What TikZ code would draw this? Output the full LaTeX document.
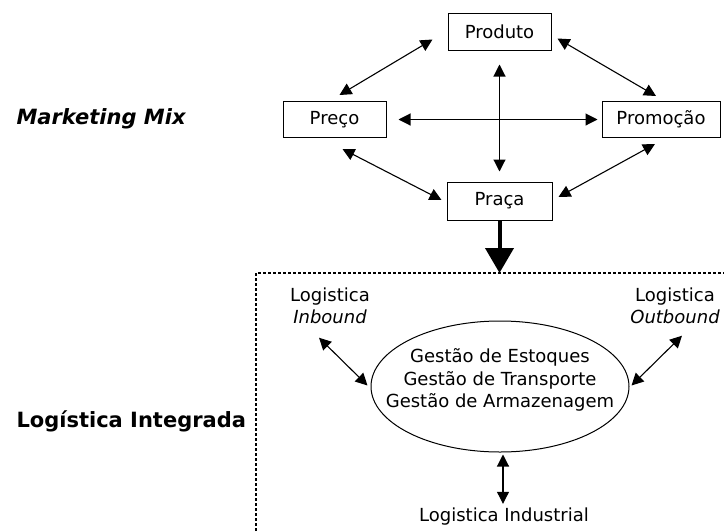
\documentclass[tikz,border=0pt]{standalone}
\usepackage{fontspec}
\setmainfont{DejaVu Sans}
\usetikzlibrary{arrows.meta,shapes.geometric,calc}
\begin{document}
\begin{tikzpicture}[x=1pt, y=-1pt, line width=1pt,
  mix node/.style={rectangle,draw,inner sep=0pt,minimum height=36,font=\fontsize{18}{22.5}\selectfont},
  side text/.style={font=\fontsize{18}{22.5}\selectfont,align=center,inner sep=2pt},
  title text/.style={font=\fontsize{21}{24}\selectfont\bfseries,anchor=west,inner sep=0pt},
  link/.style={{Triangle[length=12pt,width=12pt]}-{Triangle[length=12pt,width=12pt]},line width=1.1pt}]
\useasboundingbox (0,0) rectangle (724,531);
\node [title text] (mkt) at (16,119) {\itshape Marketing Mix};
\node [title text] (logint) at (16,421) {Logística Integrada};
\node [mix node,minimum width=103,minimum height=37](produto) at (499.5,31.5) {Produto};
\node [mix node,minimum width=103](preco) at (334.5,119.5) {Preço};
\node [mix node,minimum width=118](promocao) at (661,119.5) {Promoção};
\node [mix node,minimum width=105,minimum height=38](praca) at (499.5,201) {Praça};
\path
    ($(produto.west)+(-15,8)$) edge [link] ($(preco.north)+(5,-6)$)
    ($(produto.east)+(6,7)$) edge [link] ($(promocao.north)+(-5,-5)$)
    ($(preco.south)+(8,11)$) edge [link] ($(praca.west)+(-5,-1)$)
    ($(promocao.south)+(-6,6)$) edge [link] ($(praca.east)+(6,-4)$)
    (preco) edge [link,shorten <=12pt,shorten >=4pt] (promocao)
    (produto) edge [link,shorten <=14pt,shorten >=10pt] (praca)
    ;
\coordinate (entry) at (499.5,273);
\draw [-{Triangle[length=25pt,width=28pt]},line width=4pt] (praca.south) -- (entry);
\draw [dash pattern=on 3pt off 2pt,line width=1.2pt] (256,531) -- (256,273) -- (724,273);
\node [ellipse,draw,minimum width=258,minimum height=131,inner sep=0pt](gestao) at (500,386.5) {};
\node [side text,inner sep=0pt](gestaotxt) at (500,380) {Gestão de Estoques\\Gestão de Transporte\\Gestão de Armazenagem};
\node [side text](inbound) at (330,306) {Logistica\\\itshape Inbound};
\node [side text](outbound) at (675,306) {Logistica\\\itshape Outbound};
\node [side text](industrial) at (504,517) {Logistica Industrial};
\path
    ($(inbound.south)+(-11,11)$) edge [link] ($(gestao.west)+(-3,-1)$)
    ($(outbound.south)+(7,9)$) edge [link] ($(gestao.east)+(2,-1)$)
    ($(gestao.south)+(3,2)$) edge [link] ($(industrial.north)+(-1,-2)$)
    ;
\end{tikzpicture}
\end{document}
